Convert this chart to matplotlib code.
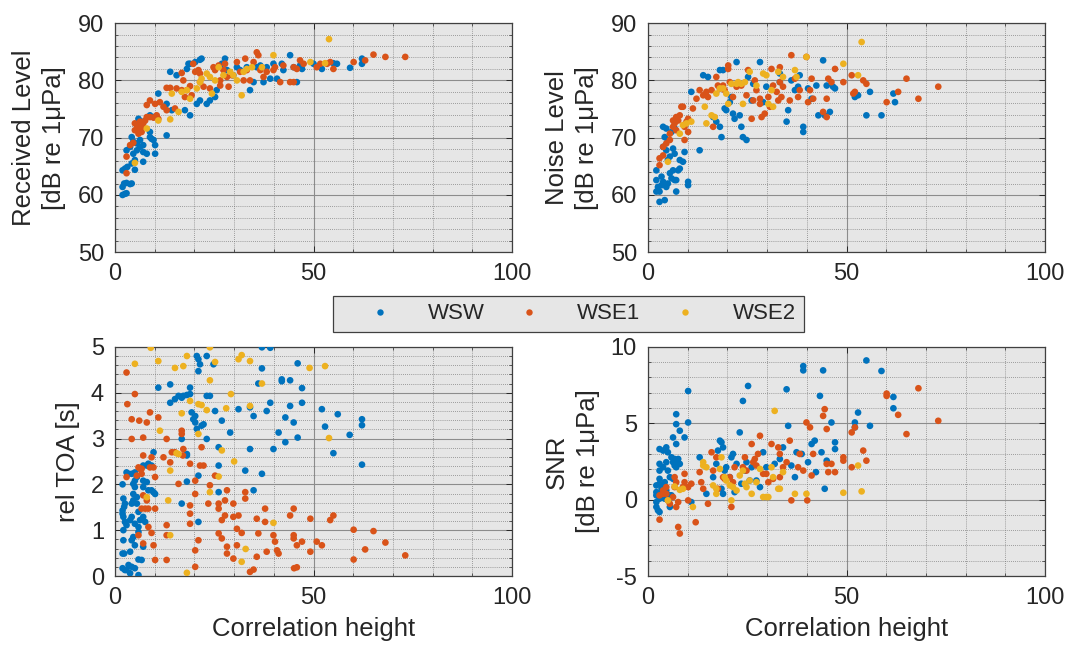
import matplotlib
matplotlib.use("Agg")
import matplotlib.pyplot as plt
from matplotlib.ticker import MultipleLocator
from matplotlib.lines import Line2D

plt.rcParams['font.family'] = ['Liberation Sans', 'DejaVu Sans']
plt.rcParams['axes.unicode_minus'] = False

series_names = ["WSW", "WSE1", "WSE2"]
series_colors = ["#0072BD", "#D95319", "#EDB120"]

# ---------------- Received level ----------------
rl_wsw_x = [1.9, 2.5, 2.9, 1.9, 2.3, 2.9, 3.8, 4.2, 1.9, 2.5, 3.1, 4.2, 5.0, 2.9, 3.8, 4.6, 5.5, 6.3, 7.1, 8.0,
            7.1, 5.0, 4.6, 5.5, 6.3, 7.1, 8.8, 9.7, 10.1, 10.1, 4.2, 5.9, 6.7, 8.8, 9.2, 13.0, 8.8, 9.7, 10.9, 13.0,
            14.3, 13.9, 15.5, 17.6, 18.9, 18.5, 18.9, 20.2, 21.4, 21.8, 18.1, 20.6, 21.4, 23.1, 23.9, 25.2, 25.6,
            27.7, 26.9, 29.8, 28.2, 30.7, 31.5, 33.2, 34.0, 34.9, 35.7, 36.6, 37.4, 38.2, 39.1, 39.9, 40.8, 42.0,
            42.4, 44.1, 45.0, 45.8, 46.6, 47.1, 50.0, 52.1, 55.0, 55.9, 59.2, 62.2, 62.2]
rl_wsw_y = [60.0, 60.2, 60.3, 61.4, 62.0, 62.1, 61.9, 62.0, 64.3, 64.6, 64.9, 65.5, 66.1, 67.8, 68.4, 67.2, 67.8,
            68.4, 67.5, 67.2, 65.8, 64.4, 69.3, 69.0, 69.6, 68.7, 70.1, 69.6, 68.7, 67.2, 70.1, 73.3, 72.8, 71.0,
            69.8, 70.4, 73.9, 73.6, 77.7, 75.9, 74.8, 81.5, 80.9, 74.8, 73.9, 82.9, 82.9, 83.2, 83.6, 83.8, 82.0,
            75.9, 76.5, 75.9, 76.5, 77.1, 78.3, 83.8, 82.9, 80.9, 81.8, 82.3, 81.8, 82.3, 78.3, 79.7, 82.3, 82.6,
            79.7, 82.3, 80.3, 82.9, 80.3, 82.9, 81.8, 84.4, 82.3, 79.7, 82.6, 82.0, 82.9, 82.0, 83.0, 82.9, 82.2,
            83.8, 82.9]
rl_wse1_x = [2.9, 2.9, 3.8, 4.6, 5.0, 5.5, 5.9, 6.3, 6.7, 7.1, 7.6, 8.0, 8.8, 9.7, 10.5, 10.9, 5.9, 6.7, 5.0, 6.3,
             8.0, 8.8, 10.1, 11.3, 12.2, 13.0, 13.0, 13.9, 15.1, 16.8, 16.8, 17.2, 18.1, 18.9, 19.7, 20.2, 21.0,
             21.4, 21.4, 22.3, 23.9, 24.8, 25.2, 26.1, 26.5, 26.5, 27.3, 27.7, 28.2, 28.6, 29.4, 30.7, 31.5, 32.4,
             32.8, 33.2, 34.0, 34.9, 35.7, 36.1, 36.6, 37.4, 38.2, 39.9, 40.3, 41.6, 42.4, 44.1, 45.0, 45.0, 45.8,
             46.6, 47.5, 50.8, 51.7, 53.4, 54.2, 55.0, 60.1, 63.0, 65.1, 68.1, 73.1, 17.6, 19.3, 15.5]
rl_wse1_y = [66.7, 63.8, 68.7, 69.1, 71.3, 72.2, 71.6, 71.0, 71.9, 72.5, 73.0, 73.6, 73.6, 73.5, 73.9, 73.3, 70.7,
             71.0, 72.5, 72.8, 75.7, 76.5, 75.9, 76.2, 75.4, 74.8, 78.7, 78.7, 75.1, 78.3, 81.3, 80.0, 78.3, 79.0,
             82.9, 81.5, 81.8, 81.2, 79.7, 78.9, 78.6, 82.3, 81.8, 82.6, 80.0, 79.1, 81.8, 82.9, 80.6, 78.9, 80.9,
             83.2, 81.5, 80.0, 83.8, 81.8, 80.0, 83.2, 84.9, 84.4, 81.8, 80.6, 81.5, 81.8, 82.3, 79.7, 82.6, 79.7,
             82.3, 79.7, 82.0, 83.5, 82.9, 82.3, 82.9, 82.9, 83.2, 82.0, 83.2, 83.5, 84.5, 84.1, 84.1, 77.1, 77.4,
             78.6]
rl_wse2_x = [5.0, 8.0, 10.9, 13.9, 14.3, 16.0, 16.8, 18.9, 20.6, 21.4, 23.1, 23.9, 24.4, 25.2, 26.1, 27.3, 29.0,
             29.8, 30.7, 31.9, 32.4, 33.2, 34.5, 37.0, 39.9, 49.2, 52.9, 53.9, 18.1, 21.8]
rl_wse2_y = [65.6, 71.6, 73.0, 73.2, 77.7, 74.5, 78.0, 76.8, 78.6, 79.7, 81.2, 80.6, 77.7, 80.0, 82.3, 80.9, 81.5,
             80.9, 80.0, 77.4, 81.5, 82.0, 82.3, 82.3, 84.4, 83.2, 83.0, 87.2, 78.3, 80.3]

# ---------------- Noise level ----------------
nl_wsw_x = [2.1, 2.1, 2.5, 2.1, 2.9, 3.4, 2.9, 4.2, 4.6, 5.0, 5.5, 6.3, 6.7, 7.1, 7.1, 7.6, 8.0, 8.8, 9.2, 6.7,
            6.3, 5.5, 4.6, 3.8, 5.0, 4.2, 3.8, 4.6, 5.9, 6.7, 10.1, 10.1, 13.0, 10.9, 13.9, 15.1, 16.4, 17.2, 18.1,
            18.5, 18.1, 18.9, 19.3, 19.7, 20.6, 21.0, 21.4, 21.8, 22.3, 23.1, 23.5, 23.9, 24.8, 25.2, 26.1, 26.5,
            28.2, 29.0, 29.8, 33.2, 33.2, 34.9, 35.3, 36.1, 37.0, 37.8, 38.2, 39.1, 39.1, 40.3, 41.2, 42.4, 42.9,
            44.1, 44.5, 45.0, 45.8, 46.6, 47.1, 52.1, 52.9, 55.0, 55.9, 58.8, 61.8, 62.2, 3.4, 3.8, 5.9, 5.0, 8.0]
nl_wsw_y = [64.3, 62.6, 61.4, 60.6, 60.6, 61.7, 58.8, 59.1, 61.4, 62.0, 63.8, 64.3, 62.6, 60.6, 62.6, 64.3, 64.6,
            65.8, 67.5, 67.2, 68.1, 66.7, 67.8, 68.4, 69.6, 70.1, 71.9, 71.6, 71.0, 71.6, 62.3, 61.7, 67.8, 78.0,
            80.9, 80.6, 73.6, 72.8, 71.9, 70.1, 81.8, 81.8, 75.1, 74.8, 76.2, 77.1, 74.2, 73.3, 83.2, 73.9, 71.9,
            70.1, 69.6, 80.6, 76.5, 79.4, 83.2, 76.2, 78.9, 81.2, 79.7, 72.8, 74.8, 80.0, 78.3, 78.9, 80.9, 71.9,
            71.0, 78.6, 76.8, 79.1, 73.9, 83.5, 73.9, 79.1, 74.5, 78.9, 78.6, 77.1, 77.4, 73.9, 78.0, 73.9, 77.7,
            76.2, 63.2, 62.3, 62.9, 66.1, 66.1]
nl_wse1_x = [2.9, 2.9, 3.8, 3.8, 4.6, 5.5, 5.5, 6.3, 6.3, 6.7, 7.1, 7.6, 7.1, 8.0, 8.4, 8.8, 9.2, 9.7, 10.1, 10.1,
             9.2, 11.3, 12.2, 13.0, 13.9, 14.7, 15.1, 16.0, 16.4, 17.2, 17.6, 18.1, 18.9, 19.3, 20.2, 20.2, 20.6,
             21.4, 22.3, 23.5, 24.8, 25.2, 26.1, 26.5, 26.9, 27.3, 28.2, 28.2, 28.6, 29.4, 30.3, 30.7, 31.1, 31.5,
             32.4, 32.8, 33.2, 33.2, 33.6, 34.0, 35.7, 36.1, 37.0, 37.8, 38.2, 39.9, 40.3, 40.8, 41.2, 41.6, 44.1,
             45.0, 45.0, 45.4, 46.2, 47.1, 49.2, 51.3, 51.7, 52.1, 54.2, 55.0, 60.1, 63.0, 65.1, 68.1, 73.1]
nl_wse1_y = [65.2, 66.4, 66.9, 68.4, 69.0, 69.6, 70.7, 71.9, 73.0, 72.5, 73.6, 73.0, 71.3, 73.9, 75.4, 75.4, 71.9,
             72.8, 73.3, 71.0, 69.6, 75.1, 76.8, 78.3, 77.4, 78.0, 77.1, 78.3, 71.9, 80.6, 79.1, 78.6, 79.1, 78.3,
             82.6, 82.0, 79.7, 77.1, 78.9, 79.1, 77.4, 81.8, 73.3, 76.5, 80.0, 78.3, 76.8, 75.9, 73.6, 74.2, 77.1,
             75.4, 82.0, 79.1, 78.0, 76.5, 82.3, 79.7, 77.1, 78.9, 76.5, 84.4, 80.3, 77.1, 78.3, 84.1, 76.2, 78.3,
             80.3, 76.8, 74.5, 73.6, 76.8, 80.3, 79.7, 82.0, 79.7, 80.9, 77.7, 78.0, 80.0, 79.4, 76.2, 78.0, 80.3,
             76.8, 78.9]
nl_wse2_x = [5.0, 8.0, 8.8, 9.7, 10.9, 14.3, 14.7, 16.0, 16.8, 17.2, 18.1, 18.9, 19.7, 20.2, 21.0, 22.3, 22.7,
             23.5, 23.9, 24.4, 25.6, 27.3, 29.0, 29.8, 30.3, 31.1, 31.5, 32.8, 34.0, 37.0, 37.4, 39.9, 49.2, 52.9,
             53.8]
nl_wse2_y = [65.8, 70.7, 72.2, 72.5, 72.8, 75.4, 72.5, 73.9, 73.6, 77.7, 78.6, 78.6, 77.7, 75.9, 79.4, 79.4, 79.7,
             79.4, 75.9, 79.7, 81.5, 79.1, 81.2, 80.9, 75.9, 78.3, 75.4, 81.5, 80.6, 81.8, 80.6, 84.1, 82.9, 80.9,
             86.7]

# ---------------- Relative time of arrival ----------------
toa_wsw_x = [1.9, 2.1, 2.3, 2.5, 1.9, 1.9, 2.1, 2.5, 2.9, 3.8, 4.2, 5.0, 6.3, 5.9, 4.2, 4.6, 5.5, 4.6, 5.0, 4.6,
             5.0, 5.5, 5.0, 2.9, 3.4, 4.2, 6.3, 7.1, 8.0, 8.4, 9.2, 7.1, 8.0, 8.4, 9.2, 9.7, 10.1, 7.1, 5.5, 5.9,
             7.1, 7.6, 5.9, 2.1, 2.1, 4.2, 4.6, 1.9, 2.3, 3.8, 5.9, 6.7, 5.0, 7.1, 1.9, 2.5, 3.4, 4.2, 5.0, 3.8,
             5.9, 2.9, 9.7, 10.9, 13.9, 13.9, 15.1, 16.0, 16.8, 17.2, 18.1, 18.9, 18.9, 19.3, 20.2, 20.6, 21.0,
             21.0, 21.4, 16.8, 18.1, 18.1, 18.1, 16.8, 19.7, 20.2, 20.6, 21.0, 21.0, 21.8, 22.3, 23.1, 23.1, 23.1,
             23.9, 25.2, 24.8, 26.1, 26.1, 26.9, 26.1, 29.0, 31.1, 32.8, 34.0, 34.0, 34.9, 34.9, 36.1, 37.0, 37.0,
             37.0, 38.2, 39.1, 39.1, 39.9, 41.2, 42.0, 42.0, 42.9, 42.9, 44.1, 44.1, 45.0, 46.0, 46.0, 47.1, 47.1,
             52.1, 52.9, 55.0, 56.1, 59.1, 62.2, 62.2, 62.2]
toa_wsw_y = [2.00, 1.69, 1.51, 1.58, 1.43, 1.36, 1.29, 1.18, 1.11, 1.22, 1.29, 1.14, 1.22, 1.07, 1.58, 1.65, 1.72,
             1.79, 1.94, 2.01, 2.08, 2.16, 2.26, 2.26, 2.23, 2.23, 2.34, 2.41, 2.41, 2.45, 2.41, 2.08, 2.05, 1.87,
             1.87, 1.83, 1.79, 1.94, 1.58, 1.40, 1.29, 1.18, 0.96, 1.00, 0.78, 0.78, 0.85, 0.49, 0.49, 0.53, 0.36,
             0.35, 0.67, 0.64, 0.17, 0.13, 0.24, 0.20, 0.17, 0.06, 0.02, 0.13, 2.70, 4.11, 4.18, 3.78, 3.86, 3.93,
             3.89, 3.93, 3.95, 4.11, 3.97, 3.57, 3.49, 4.80, 4.73, 4.47, 4.62, 1.58, 2.66, 2.63, 2.06, 2.99, 3.42,
             3.35, 3.21, 2.19, 1.18, 3.28, 3.31, 3.93, 4.80, 2.99, 3.93, 3.60, 4.62, 2.81, 1.83, 3.39, 2.41, 3.13,
             3.64, 2.30, 3.68, 2.77, 3.49, 1.87, 4.20, 4.99, 2.23, 4.53, 3.60, 4.98, 3.78, 2.77, 3.13, 4.29, 4.25,
             3.46, 2.92, 3.71, 4.27, 3.35, 4.64, 3.02, 4.10, 3.78, 3.64, 3.26, 2.68, 3.53, 3.08, 3.42, 3.29, 2.43]
toa_wse1_x = [2.9, 3.1, 5.0, 4.2, 4.2, 6.1, 8.0, 8.8, 7.1, 7.1, 9.2, 8.8, 9.7, 10.1, 5.9, 6.3, 6.7, 5.5, 6.7, 2.9,
              7.1, 8.0, 6.7, 7.6, 8.4, 10.1, 8.4, 9.2, 5.9, 7.1, 9.7, 10.1, 13.0, 13.0, 13.0, 10.9, 12.2, 13.0,
              13.9, 14.3, 15.1, 16.0, 16.8, 16.8, 17.1, 17.2, 18.9, 20.2, 20.2, 18.9, 18.9, 18.9, 21.0, 20.2, 20.2,
              21.4, 21.8, 22.3, 23.5, 23.9, 25.2, 26.1, 26.1, 26.9, 27.7, 27.7, 26.1, 26.9, 28.2, 28.2, 28.2, 29.8,
              29.8, 29.8, 30.7, 31.1, 30.7, 31.9, 32.8, 32.8, 34.0, 34.9, 35.7, 36.1, 35.7, 37.8, 37.8, 38.2, 39.9,
              40.3, 40.8, 41.2, 44.1, 45.0, 45.0, 45.0, 45.8, 47.1, 45.8, 45.1, 49.2, 49.2, 50.8, 52.1, 54.2, 55.0,
              60.1, 60.1, 63.0, 65.1, 68.1, 73.1]
toa_wse1_y = [4.44, 3.75, 3.97, 3.42, 2.99, 3.39, 3.35, 3.57, 3.02, 2.63, 2.59, 2.37, 2.37, 2.16, 2.37, 2.34, 2.34,
              2.19, 2.23, 2.16, 1.76, 1.65, 1.47, 1.47, 1.47, 1.47, 1.07, 0.94, 0.89, 0.71, 0.67, 0.35, 1.11, 0.89,
              0.35, 3.46, 2.59, 2.99, 2.48, 2.70, 2.70, 2.01, 3.17, 3.10, 2.63, 2.77, 2.45, 2.08, 1.79, 1.54, 1.36,
              1.14, 0.78, 0.56, 0.20, 2.41, 2.81, 2.41, 1.58, 1.98, 2.19, 1.58, 1.47, 1.22, 1.32, 1.65, 0.93, 0.82,
              1.87, 0.64, 0.49, 1.58, 1.29, 0.38, 1.03, 1.32, 0.67, 0.94, 1.83, 1.69, 0.09, 0.14, 1.25, 0.93, 0.42,
              1.47, 1.18, 0.53, 0.89, 0.75, 0.56, 0.49, 1.32, 1.47, 0.89, 0.82, 0.67, 0.75, 0.19, 0.17, 0.53, 1.25,
              0.75, 0.67, 1.22, 1.32, 1.01, 0.36, 0.58, 0.98, 0.73, 0.45]
toa_wse2_x = [9.0, 5.0, 10.9, 15.1, 17.2, 18.1, 18.9, 16.8, 16.0, 13.9, 13.4, 13.9, 8.0, 11.3, 21.0, 21.0, 21.8,
              23.1, 23.9, 23.9, 25.2, 26.9, 28.0, 29.2, 30.0, 31.1, 31.9, 34.0, 34.0, 37.0, 26.1, 23.9, 32.9, 31.9,
              39.9, 49.0, 52.9, 53.9, 18.1, 15.5]
toa_wse2_y = [4.98, 4.63, 4.69, 4.54, 4.58, 4.80, 3.82, 3.55, 2.66, 2.30, 1.65, 0.89, 1.72, 3.17, 3.75, 3.10, 3.73,
              3.62, 4.99, 4.27, 4.67, 2.74, 3.66, 3.97, 2.50, 4.73, 4.82, 4.69, 3.71, 4.20, 2.17, 1.83, 0.59, 0.31,
              1.16, 4.54, 4.58, 3.01, 0.07, 2.68]

# ---------------- Signal-to-noise ratio ----------------
snr_wsw_x = [2.1, 2.5, 2.9, 2.1, 2.1, 2.1, 2.1, 2.9, 2.9, 2.9, 3.8, 2.9, 2.9, 3.8, 4.6, 5.0, 5.9, 6.3, 6.7, 6.7,
             7.1, 7.6, 8.0, 7.1, 4.6, 5.0, 5.5, 6.3, 4.2, 3.8, 4.6, 5.5, 4.2, 5.0, 5.9, 2.9, 3.4, 2.9, 5.5, 6.3,
             7.1, 7.1, 7.1, 8.0, 9.2, 10.1, 10.1, 10.9, 13.0, 14.7, 16.4, 17.2, 17.6, 18.1, 18.5, 18.9, 18.5, 18.9,
             19.3, 19.7, 20.6, 21.0, 21.4, 21.8, 22.3, 23.1, 23.5, 23.9, 24.4, 24.8, 25.2, 25.6, 26.1, 27.3, 28.2,
             29.0, 29.8, 31.9, 33.2, 34.0, 34.9, 35.3, 36.1, 37.0, 37.4, 38.7, 39.1, 39.1, 40.3, 41.2, 42.0, 42.3,
             43.3, 43.7, 44.1, 44.5, 45.0, 46.2, 47.1, 47.1, 52.9, 52.1, 52.1, 55.0, 55.9, 58.8, 61.8, 61.8]
snr_wsw_y = [-0.48, -0.70, -0.81, -0.16, 0.28, 0.49, 0.93, 1.04, 1.36, 1.90, 2.12, 2.34, 3.31, 3.21, 3.42, 3.10,
             2.77, 2.45, 2.66, 2.23, 2.45, 2.66, 2.34, 2.12, 2.45, 1.90, 1.47, 1.36, 1.14, 0.82, 0.60, 0.28, 0.06,
             0.06, 0.28, 0.38, 0.71, 0.06, -0.48, 4.07, 3.64, 5.59, 4.94, 4.51, 4.07, 7.11, 5.05, -0.16, 2.77, 0.38,
             1.47, 2.34, 3.21, 3.86, 3.75, 3.42, 0.71, 0.38, 1.90, 2.12, 1.47, 2.77, 2.99, 0.49, 2.34, 4.40, 1.04,
             6.46, 1.90, 2.45, 7.44, 1.25, 2.12, 1.25, 0.82, 3.10, 2.12, 2.34, 2.66, 3.42, 7.22, 4.83, 2.23, 1.47,
             3.10, 2.99, 8.74, 8.46, 2.45, 3.64, 3.86, 1.80, 6.79, 3.10, 8.46, 0.71, 2.55, 5.05, 3.75, 3.31, 5.70,
             5.05, 4.73, 9.11, 4.83, 8.42, 6.72, 5.98]
snr_wse1_x = [2.9, 2.9, 3.8, 3.8, 4.6, 4.6, 5.0, 5.5, 6.3, 6.7, 6.7, 7.1, 7.6, 7.1, 7.6, 8.0, 8.8, 9.2, 9.2, 10.1,
              10.1, 10.9, 12.0, 13.0, 13.4, 13.9, 15.1, 16.0, 16.4, 17.2, 17.6, 18.9, 19.3, 20.6, 21.0, 21.4, 21.8,
              23.9, 24.4, 24.8, 26.1, 26.5, 26.9, 27.3, 27.7, 28.2, 29.0, 29.8, 30.3, 31.1, 31.5, 32.8, 33.2, 33.2,
              34.0, 34.9, 35.7, 36.1, 37.8, 38.2, 39.1, 39.9, 40.1, 40.8, 41.2, 41.6, 44.1, 44.5, 45.0, 45.0, 45.4,
              46.2, 47.1, 49.2, 49.2, 51.3, 51.3, 52.1, 54.2, 55.0, 60.1, 60.1, 63.0, 65.1, 68.1, 73.1]
snr_wse1_y = [-1.31, 0.28, 0.60, 0.38, 0.82, 0.38, -0.05, -0.27, 0.17, 0.82, 1.47, 1.14, -0.16, -0.48, -1.79,
              -2.22, 0.82, 1.69, 1.14, 0.82, -0.05, 1.04, -1.48, 1.80, 1.14, 0.71, -0.27, 3.10, 1.90, 2.77, 0.71,
              1.47, 1.36, 1.47, -0.48, 1.14, 2.12, 2.12, 2.77, 1.90, 3.64, 2.45, 2.66, 2.23, 2.99, 4.18, 1.69, 1.69,
              1.14, 3.64, 1.36, 3.42, 2.99, 1.47, 2.12, 2.45, 3.86, -0.05, 2.12, 2.99, 1.90, 5.05, -0.05, 4.73,
              1.58, 2.99, 5.48, 5.92, 4.62, 2.34, 1.80, 2.34, 1.80, 2.77, 2.55, 4.40, 2.12, 4.73, 3.21, 2.55, 6.94,
              6.79, 5.55, 4.29, 7.29, 5.16]
snr_wse2_x = [5.0, 6.7, 8.0, 8.8, 11.3, 13.9, 13.9, 14.7, 16.4, 17.2, 17.2, 18.1, 18.5, 19.3, 19.7, 20.6, 21.0,
              21.4, 22.3, 23.1, 23.9, 24.4, 24.8, 25.6, 26.1, 27.3, 28.2, 29.0, 29.8, 30.3, 31.1, 31.5, 31.9, 32.8,
              33.2, 34.0, 37.0, 39.9, 49.2, 52.9, 53.8]
snr_wse2_y = [-0.05, 0.86, 0.64, 0.71, -0.48, 2.45, 2.23, 2.12, 0.93, 0.38, 0.71, 2.01, 2.77, 1.47, 1.25, 0.93,
              -0.05, 0.82, 0.60, 1.58, 1.90, 1.04, 0.82, 1.25, 0.38, 1.14, 2.01, 0.17, 0.17, 0.17, 2.12, 1.47, 5.81,
              0.71, 0.71, 1.80, 0.38, 0.38, 0.45, 2.23, 0.54]

# ---------------- Figure ----------------
fig = plt.figure(figsize=(10.69, 6.51), dpi=100)

AX_W = 0.3714
AX_H = 0.352
panels = [
    dict(rect=[0.1076, 0.6125, AX_W, AX_H],
         data=[(rl_wsw_x, rl_wsw_y), (rl_wse1_x, rl_wse1_y), (rl_wse2_x, rl_wse2_y)],
         ylim=(50, 90), ymajor=10, yminor=2, ylabel="Received Level\n[dB re 1\u03bcPa]", xlabel=None),
    dict(rect=[0.6062, 0.6125, AX_W, AX_H],
         data=[(nl_wsw_x, nl_wsw_y), (nl_wse1_x, nl_wse1_y), (nl_wse2_x, nl_wse2_y)],
         ylim=(50, 90), ymajor=10, yminor=2, ylabel="Noise Level\n[dB re 1\u03bcPa]", xlabel=None),
    dict(rect=[0.1076, 0.1152, AX_W, AX_H],
         data=[(toa_wsw_x, toa_wsw_y), (toa_wse1_x, toa_wse1_y), (toa_wse2_x, toa_wse2_y)],
         ylim=(0, 5), ymajor=1, yminor=0.2, ylabel="rel TOA [s]", xlabel="Correlation height"),
    dict(rect=[0.6062, 0.1152, AX_W, AX_H],
         data=[(snr_wsw_x, snr_wsw_y), (snr_wse1_x, snr_wse1_y), (snr_wse2_x, snr_wse2_y)],
         ylim=(-5, 10), ymajor=5, yminor=1, ylabel="SNR\n[dB re 1\u03bcPa]", xlabel="Correlation height"),
]

TICK_FS = 17
LABEL_FS = 18.5
TEXT_COLOR = "#262626"

for p in panels:
    ax = fig.add_axes(p["rect"])
    ax.set_facecolor("#e6e6e6")
    for (xs, ys), col in zip(p["data"], series_colors):
        ax.scatter(xs, ys, s=23, color=col, edgecolors="none", zorder=3)
    ax.set_xlim(0, 100)
    ax.set_ylim(*p["ylim"])
    ax.xaxis.set_major_locator(MultipleLocator(50))
    ax.xaxis.set_minor_locator(MultipleLocator(10))
    ax.yaxis.set_major_locator(MultipleLocator(p["ymajor"]))
    ax.yaxis.set_minor_locator(MultipleLocator(p["yminor"]))
    ax.grid(which="major", color="#8c8c8c", linestyle="-", linewidth=0.8, zorder=1)
    ax.grid(which="minor", color="#6a6a6a", linestyle=(0, (1, 1.5)), linewidth=0.6, alpha=0.8, zorder=1)
    ax.set_axisbelow(True)
    ax.tick_params(which="both", direction="in", top=True, right=True, colors=TEXT_COLOR,
                   labelsize=TICK_FS, pad=8)
    ax.tick_params(which="major", length=4, width=0.7)
    ax.tick_params(which="minor", length=2, width=0.5)
    for sp in ax.spines.values():
        sp.set_color("#404040")
        sp.set_linewidth(0.9)
    ax.set_ylabel(p["ylabel"], fontsize=LABEL_FS, color=TEXT_COLOR, linespacing=1.35, labelpad=8)
    if p["xlabel"]:
        ax.set_xlabel(p["xlabel"], fontsize=LABEL_FS, color=TEXT_COLOR, labelpad=6)

handles = [Line2D([], [], linestyle="none", marker="o", markersize=4.6, markeredgewidth=0,
                  color=c) for c in series_colors]
leg = fig.legend(handles, series_names, loc="center", ncol=3,
                 bbox_to_anchor=(0.3115, 0.487, 0.4406, 0.0614), mode="expand",
                 fontsize=16, frameon=True, fancybox=False, handlelength=3.5,
                 handletextpad=0.4, borderaxespad=0.0, borderpad=0.35)
for t in leg.get_texts():
    t.set_color(TEXT_COLOR)
frame = leg.get_frame()
frame.set_facecolor("#e6e6e6")
frame.set_edgecolor("#404040")
frame.set_linewidth(0.9)
frame.set_alpha(1.0)

fig.savefig("out.png", dpi=100)
